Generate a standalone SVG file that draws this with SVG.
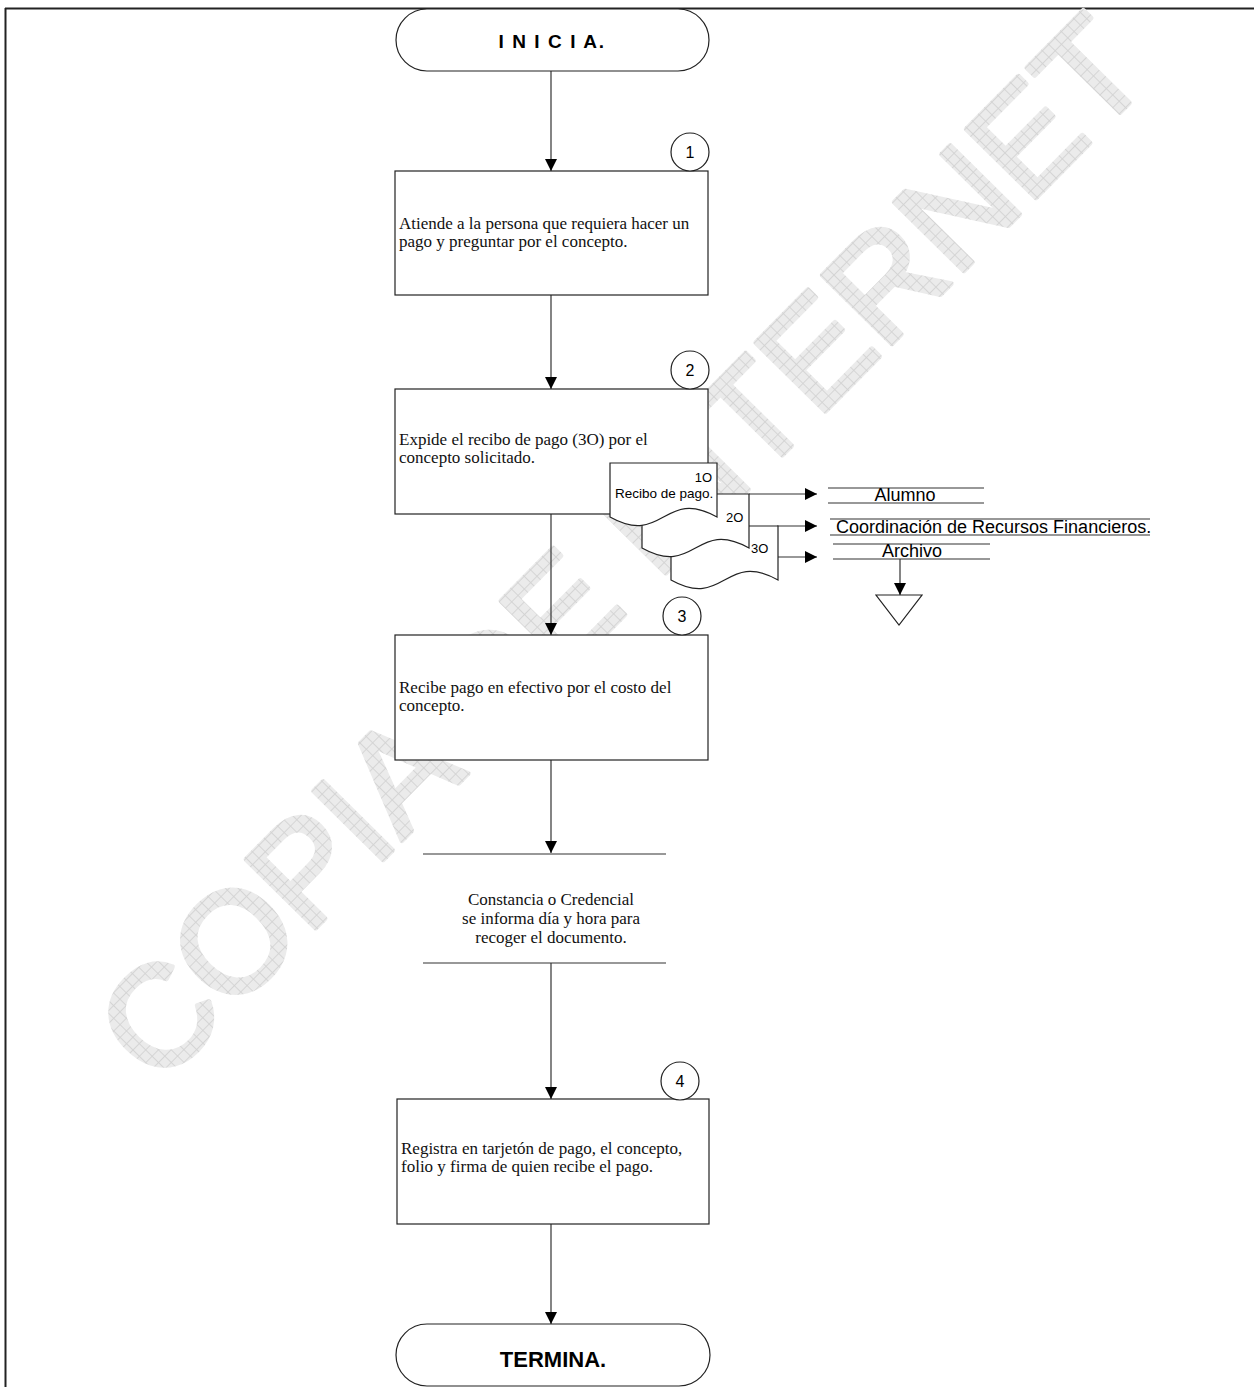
<svg xmlns="http://www.w3.org/2000/svg" width="1254" height="1387" viewBox="0 0 1254 1387">
<defs>
<pattern id="hatch" width="9" height="9" patternUnits="userSpaceOnUse">
<rect width="9" height="9" fill="#ebebeb"/>
<path d="M0 0.5H9M0.5 0V9" stroke="#d2d2d2" stroke-width="0.9" fill="none"/>
</pattern>
<marker id="arr" markerUnits="userSpaceOnUse" markerWidth="12" markerHeight="12" viewBox="0 0 12 12" refX="12" refY="6" orient="auto">
<path d="M0,0 L12,6 L0,12 Z" fill="#000"/>
</marker>
<style>
.box{fill:#fff;stroke:#222;stroke-width:1.2}
.term{fill:#fff;stroke:#222;stroke-width:1.2}
.num{fill:#fff;stroke:#222;stroke-width:1.2}
.conn{fill:none;stroke:#333;stroke-width:1.2}
.line{fill:none;stroke:#333;stroke-width:1.2}
.serif{font-family:"Liberation Serif","Times New Roman",serif;font-size:17px;fill:#111}
.sans{font-family:"Liberation Sans",Arial,sans-serif;fill:#000}
.wm{font-family:"Liberation Sans",Arial,sans-serif;font-size:142px;fill:url(#hatch);stroke:url(#hatch);stroke-width:5;stroke-linejoin:round}
</style>
</defs>
<rect width="1254" height="1387" fill="#fff"/>
<g id="frame">
<line x1="5" y1="8.5" x2="1254" y2="8.5" stroke="#222" stroke-width="2"/>
<line x1="5.5" y1="8" x2="5.5" y2="1387" stroke="#222" stroke-width="2"/>
</g>
<g id="watermark">
<text class="wm" transform="translate(158,1088) rotate(-45.4)">COPIA DE INTERNET</text>
</g>
<g id="connectors">
<line class="conn" x1="551" y1="71" x2="551" y2="171" marker-end="url(#arr)"/>
<line class="conn" x1="551" y1="295" x2="551" y2="389" marker-end="url(#arr)"/>
<line class="conn" x1="551" y1="514" x2="551" y2="635" marker-end="url(#arr)"/>
<line class="conn" x1="551" y1="760" x2="551" y2="853" marker-end="url(#arr)"/>
<line class="conn" x1="551" y1="963" x2="551" y2="1099" marker-end="url(#arr)"/>
<line class="conn" x1="551" y1="1224" x2="551" y2="1324" marker-end="url(#arr)"/>
<line class="conn" x1="749" y1="494" x2="817" y2="494" marker-end="url(#arr)"/>
<line class="conn" x1="777" y1="526" x2="817" y2="526" marker-end="url(#arr)"/>
<line class="conn" x1="777" y1="557" x2="817" y2="557" marker-end="url(#arr)"/>
<line class="conn" x1="900" y1="559" x2="900" y2="595" marker-end="url(#arr)"/>
</g>
<g id="inicia">
<rect class="term" x="396" y="9" width="313" height="62" rx="31" ry="31"/>
<text class="sans" x="552" y="48" text-anchor="middle" font-size="19" font-weight="bold" letter-spacing="1.6">I N I C I A.</text>
</g>
<g id="step1">
<rect class="box" x="395" y="171" width="313" height="124"/>
<circle class="num" cx="690" cy="152" r="19"/>
<text class="sans" x="690" y="158" text-anchor="middle" font-size="16">1</text>
<text class="serif" x="399" y="229">Atiende a la persona que requiera hacer un</text>
<text class="serif" x="399" y="247">pago y preguntar por el concepto.</text>
</g>
<g id="step2">
<rect class="box" x="395" y="389" width="313" height="125"/>
<circle class="num" cx="690" cy="370" r="19"/>
<text class="sans" x="690" y="376" text-anchor="middle" font-size="16">2</text>
<text class="serif" x="399" y="445">Expide el recibo de pago (3O) por el</text>
<text class="serif" x="399" y="463">concepto solicitado.</text>
</g>
<g id="documents">
<path class="box" d="M671,526 H778 V580 C724.5,550 724.5,610 671,580 Z"/>
<path class="box" d="M642,494 H749 V548 C695.5,518 695.5,578 642,548 Z"/>
<path class="box" d="M610,463 H717 V517 C663.5,487 663.5,547 610,517 Z"/>
<text class="sans" x="712" y="482" text-anchor="end" font-size="13">1O</text>
<text class="sans" x="615" y="498" font-size="13.5">Recibo de pago.</text>
<text class="sans" x="726" y="522" font-size="13">2O</text>
<text class="sans" x="751" y="553" font-size="13">3O</text>
</g>
<g id="alumno">
<line class="line" x1="828" y1="488" x2="984" y2="488"/>
<line class="line" x1="828" y1="503" x2="984" y2="503"/>
<text class="sans" x="905" y="501" text-anchor="middle" font-size="18">Alumno</text>
</g>
<g id="coordinacion">
<line class="line" x1="830" y1="519" x2="1150" y2="519"/>
<line class="line" x1="830" y1="535" x2="1150" y2="535"/>
<text class="sans" x="836" y="533" font-size="18">Coordinación de Recursos Financieros.</text>
</g>
<g id="archivo">
<line class="line" x1="833" y1="544" x2="990" y2="544"/>
<line class="line" x1="833" y1="559" x2="990" y2="559"/>
<text class="sans" x="912" y="557" text-anchor="middle" font-size="18">Archivo</text>
<path class="box" d="M876,595 L922,595 L899,625 Z"/>
</g>
<g id="step3">
<rect class="box" x="395" y="635" width="313" height="125"/>
<circle class="num" cx="682" cy="616" r="19"/>
<text class="sans" x="682" y="622" text-anchor="middle" font-size="16">3</text>
<text class="serif" x="399" y="693">Recibe pago en efectivo por el costo del</text>
<text class="serif" x="399" y="711">concepto.</text>
</g>
<g id="constancia">
<line class="line" x1="423" y1="854" x2="666" y2="854"/>
<line class="line" x1="423" y1="963" x2="666" y2="963"/>
<text class="serif" x="551" y="905" text-anchor="middle">Constancia o Credencial</text>
<text class="serif" x="551" y="924" text-anchor="middle">se informa día y hora para</text>
<text class="serif" x="551" y="943" text-anchor="middle">recoger el documento.</text>
</g>
<g id="step4">
<rect class="box" x="397" y="1099" width="312" height="125"/>
<circle class="num" cx="680" cy="1081" r="19"/>
<text class="sans" x="680" y="1087" text-anchor="middle" font-size="16">4</text>
<text class="serif" x="401" y="1154">Registra en tarjetón de pago, el concepto,</text>
<text class="serif" x="401" y="1172">folio y firma de quien recibe el pago.</text>
</g>
<g id="termina">
<rect class="term" x="396" y="1324" width="314" height="62" rx="31" ry="31"/>
<text class="sans" x="553" y="1367" text-anchor="middle" font-size="22" font-weight="bold">TERMINA.</text>
</g>
</svg>
